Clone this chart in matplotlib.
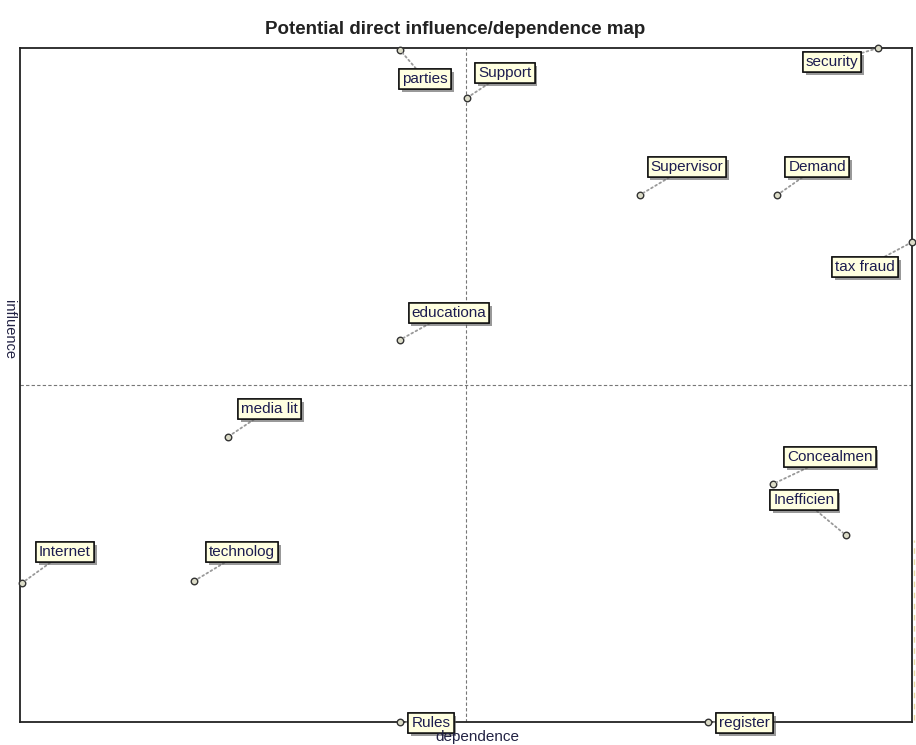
import matplotlib
matplotlib.use('Agg')
import matplotlib.pyplot as plt
import matplotlib.patheffects as pe
from matplotlib.lines import Line2D

plt.rcParams['font.family'] = ['Liberation Sans', 'DejaVu Sans']

# variables, dependence (x) and influence (y), scale 0-100
names = ['parties', 'Support', 'security', 'Supervisor', 'Demand', 'tax fraud',
         'educationa', 'media lit', 'Concealmen', 'Inefficien', 'Internet',
         'technolog', 'Rules', 'register']
dependence = [42.6, 50.1, 96.2, 69.5, 84.9, 100.0,
              42.6, 23.3, 84.4, 92.6, 0.2,
              19.5, 42.6, 77.1]
influence = [99.7, 92.6, 100.0, 78.2, 78.2, 71.2,
             56.7, 42.3, 35.3, 27.7, 20.6,
             20.9, 0.0, 0.0]

# label box offsets from the point, in pixels
offsets = [(25, -29), (38, 25), (-46, -14), (47, 28), (40, 28), (-47, -25),
           (49, 27), (42, 28), (57, 27), (-42, 35), (43, 31),
           (48, 29), (31, -1), (37, -1)]

fig = plt.figure(figsize=(9.16, 7.45), dpi=100)
ax = fig.add_axes([20/916, 23/745, 892/916, 674/745])
ax.set_xlim(0, 100)
ax.set_ylim(0, 100)
ax.set_xticks([])
ax.set_yticks([])
for s in ax.spines.values():
    s.set_linewidth(1.3)
    s.set_color('#222222')

ax.axvline(50, color='#777777', lw=0.8, ls=(0, (3, 2)))
ax.axhline(50, color='#777777', lw=0.8, ls=(0, (3, 2)))

ax.scatter(dependence, influence, s=22, facecolor='#dcdcc8', edgecolor='#333333',
           linewidth=1.0, zorder=5, clip_on=False)

for n, x, y, (dx, dy) in zip(names, dependence, influence, offsets):
    a = ax.annotate(n, (x, y), xytext=(dx, dy), textcoords='offset pixels',
                    ha='center', va='center', fontsize=11, color='#1c1c50',
                    annotation_clip=False, zorder=6,
                    bbox=dict(boxstyle='square,pad=0.2', fc='#ffffe0', ec='#111111', lw=1.1),
                    arrowprops=dict(arrowstyle='-', color='#999999', lw=1.3, ls=':',
                                    shrinkA=0, shrinkB=3))
    a.get_bbox_patch().set_path_effects([pe.withSimplePatchShadow(offset=(2, -2), shadow_rgbFace='#555555', alpha=0.6), pe.Normal()])

fig.text(455/916, 1 - 30/745, 'Potential direct influence/dependence map',
         ha='center', va='center', fontsize=13.5, fontweight='bold', color='#222222')
fig.text(477/916, 1 - 737/745, 'dependence', ha='center', va='center',
         fontsize=11, color='#222244')
fig.text(9/916, 1 - 330/745, 'influence', ha='center', va='center',
         fontsize=10.5, color='#222244', rotation=270)

fig.add_artist(Line2D([914/916, 914/916], [1 - 720/745, 1 - 540/745],
                      color='#e8d9a0', lw=1, ls=(0, (4, 4))))

fig.savefig('out.png', dpi=100)
